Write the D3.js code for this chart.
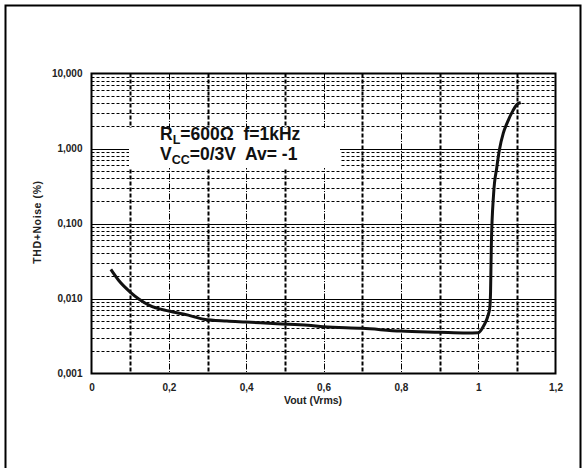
<!DOCTYPE html>
<html><head><meta charset="utf-8">
<script src="https://cdn.jsdelivr.net/npm/d3@7/dist/d3.min.js"></script>
<style>body{margin:0;background:#fff}svg{display:block}text{white-space:pre}</style>
</head><body>
<svg id="c" width="586" height="468"></svg>
<script>
// Data
const vout = [0.05,0.07,0.10,0.15,0.20,0.25,0.29,0.35,0.40,0.48,0.56,0.60,0.70,0.80,0.90,0.97,1.00,1.015,1.025,1.030,1.032,1.034,1.040,1.048,1.055,1.065,1.075,1.090,1.100,1.110];
const thd  = [0.0244,0.0175,0.0122,0.0081,0.0068,0.0060,0.0053,0.0050,0.00485,0.0046,0.0044,0.0042,0.0040,0.00368,0.00355,0.00347,0.0035,0.0044,0.0058,0.0075,0.012,0.05,0.25,0.55,0.96,1.6,2.2,3.2,3.85,4.1];
const xTicks = [0,0.2,0.4,0.6,0.8,1.0,1.2];
const xTickLabels = ["0","0,2","0,4","0,6","0,8","1","1,2"];
const yTicks = [0.001,0.01,0.1,1,10];
const yTickLabels = ["0,001","0,010","0,100","1,000","10,000"];
const xTitle = "Vout (Vrms)";
const yTitle = "THD+Noise (%)";

const svg = d3.select("#c");
const L=91.5, R=555.5, T=73.5, B=373.5;
const x = d3.scaleLinear().domain([0,1.2]).range([L,R]);
const y = d3.scaleLog().domain([0.001,10]).range([B,T]);

// outer frame
svg.append("path").attr("d",`M5.5,470 V5.5 H580.5 V470`).attr("fill","none").attr("stroke","#000").attr("stroke-width",2);

const g = svg.append("g");
// horizontal minor grid
const minors=[];
for(let d=0.001; d<10; d*=10){ for(let k=2;k<=9;k++) minors.push(+(d*k).toPrecision(3)); }
g.selectAll("line.hm").data(minors).join("line")
 .attr("x1",L).attr("x2",R).attr("y1",d=>Math.round(y(d))+0.5).attr("y2",d=>Math.round(y(d))+0.5)
 .attr("stroke","#000").attr("stroke-width",1.2).attr("stroke-dasharray","3,2");
// horizontal major grid
g.selectAll("line.hM").data(yTicks.slice(1,-1)).join("line")
 .attr("x1",L).attr("x2",R).attr("y1",d=>Math.round(y(d))+0.5).attr("y2",d=>Math.round(y(d))+0.5)
 .attr("stroke","#000").attr("stroke-width",1);
// vertical grid
const vx=d3.range(1,12).map(i=>i/10);
g.selectAll("line.v").data(vx).join("line")
 .attr("x1",d=>Math.round(x(d))+0.5).attr("x2",d=>Math.round(x(d))+0.5).attr("y1",T).attr("y2",B)
 .attr("stroke","#000")
 .attr("stroke-width",(d,i)=>i%2===0?2:1)
 .attr("stroke-dasharray",(d,i)=>i%2===0?"4,2":"6,1.5,1,1.5");

// annotation box
svg.append("rect").attr("x",129).attr("y",128).attr("width",211).attr("height",40).attr("fill","#fff");
const ann = svg.append("g").attr("font-family","Liberation Sans, Arial, sans-serif").attr("font-weight","bold").attr("font-size",17.5).attr("fill","#111");
const t1 = ann.append("text").attr("x",160).attr("y",140);
t1.append("tspan").text("R");
t1.append("tspan").attr("font-size",12.5).attr("dy",4).text("L");
t1.append("tspan").attr("dy",-4).text("=600Ω  f=1kHz");
const t2 = ann.append("text").attr("x",160).attr("y",160);
t2.append("tspan").text("V");
t2.append("tspan").attr("font-size",12.5).attr("dy",4).text("CC");
t2.append("tspan").attr("dy",-4).text("=0/3V  Av= -1");

// plot frame
svg.append("rect").attr("x",L).attr("y",T).attr("width",R-L).attr("height",B-T).attr("fill","none").attr("stroke","#000").attr("stroke-width",2);

// curve
svg.append("path").datum(vout.map((v,i)=>[v,thd[i]]))
 .attr("d",d3.line().x(d=>x(d[0])).y(d=>y(d[1])).curve(d3.curveMonotoneX))
 .attr("fill","none").attr("stroke","#111").attr("stroke-width",3).attr("stroke-linejoin","round");

// axes
const font="Liberation Sans, Arial, sans-serif";
const xa = svg.append("g").attr("transform",`translate(0,${B})`)
 .call(d3.axisBottom(x).tickValues(xTicks).tickFormat((d,i)=>xTickLabels[i]).tickSize(0).tickPadding(10));
const ya = svg.append("g").attr("transform",`translate(${L},0)`)
 .call(d3.axisLeft(y).tickValues(yTicks).tickFormat((d,i)=>yTickLabels[i]).tickSize(0).tickPadding(9));
[xa,ya].forEach(a=>{a.select(".domain").remove();a.selectAll("text").attr("font-family",font).attr("font-weight","bold").attr("font-size",10).attr("fill","#222");});

svg.append("text").attr("x",313).attr("y",404).attr("text-anchor","middle")
 .attr("font-family",font).attr("font-weight","bold").attr("font-size",10.5).attr("fill","#222").text(xTitle);
svg.append("text").attr("transform","translate(41,222) rotate(-90)").attr("text-anchor","middle")
 .attr("font-family",font).attr("font-weight","bold").attr("font-size",10.5).attr("letter-spacing",0.6).attr("fill","#222").text(yTitle);
</script>
</body></html>
